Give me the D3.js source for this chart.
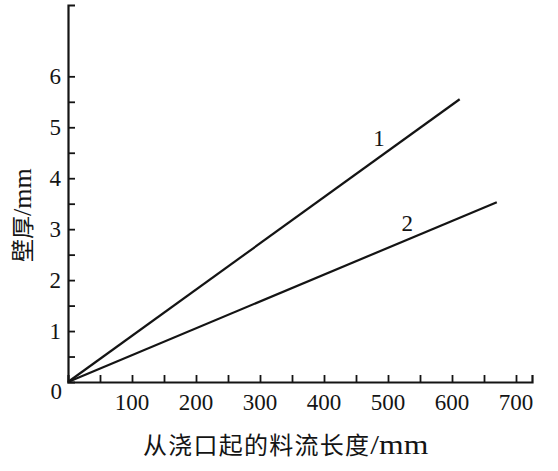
<!DOCTYPE html>
<html>
<head>
<meta charset="utf-8">
<script src="https://cdn.jsdelivr.net/npm/d3@7/dist/d3.min.js"></script>
<style>
html,body{margin:0;padding:0;background:#fff;}
svg{display:block;}
</style>
</head>
<body>
<script>
// ---- data ----
const seriesNames = ["1", "2"];
const line1X = [0, 612];
const line1Y = [0, 5.55];
const line2X = [0, 670];
const line2Y = [0, 3.53];
const xTickLabels = [100, 200, 300, 400, 500, 600, 700];
const yTickLabels = [1, 2, 3, 4, 5, 6];
const xLabel = "从浇口起的料流长度/mm";
const yLabel = "壁厚/mm";

const W = 558, H = 471;
const svg = d3.select("body").append("svg").attr("width", W).attr("height", H);

const x = d3.scaleLinear().domain([0, 725]).range([68, 532]);
const y = d3.scaleLinear().domain([0, 7.4]).range([382, 5]);

const ink = "#141414";
const serif = "'Liberation Serif','DejaVu Serif',serif";
const cjk = "'Noto Sans CJK SC','Noto Serif CJK SC',sans-serif";

// axes
const xAxis = d3.axisBottom(x).tickValues(d3.range(50, 701, 50)).tickSize(-7).tickFormat("");
const yAxis = d3.axisLeft(y).tickValues(d3.range(0.5, 6.01, 0.5)).tickSize(-7).tickFormat("");

const gx = svg.append("g").attr("transform", `translate(0,${y(0)})`).call(xAxis);
const gy = svg.append("g").attr("transform", `translate(${x(0)},0)`).call(yAxis);
[gx, gy].forEach(g => {
  g.select(".domain").attr("stroke", ink).attr("stroke-width", 2.2);
  g.selectAll(".tick line").attr("stroke", ink).attr("stroke-width", 1.8);
});

// tick labels
svg.append("g").selectAll("text").data(xTickLabels).join("text")
  .attr("x", d => x(d)).attr("y", y(0) + 28)
  .attr("text-anchor", "middle")
  .attr("font-family", serif).attr("font-size", 23).attr("fill", ink)
  .text(d => d);

svg.append("g").selectAll("text").data(yTickLabels).join("text")
  .attr("x", x(0) - 7).attr("y", d => y(d) + 8)
  .attr("text-anchor", "end")
  .attr("font-family", serif).attr("font-size", 23).attr("fill", ink)
  .text(d => d);

svg.append("text")
  .attr("x", x(0) - 6).attr("y", y(0) + 17)
  .attr("text-anchor", "end")
  .attr("font-family", serif).attr("font-size", 23).attr("fill", ink)
  .text("0");

// lines
const lineGen = d3.line().x(d => x(d[0])).y(d => y(d[1]));
const series = [
  { name: seriesNames[0], pts: d3.zip(line1X, line1Y), lx: 486, ly: 4.79 },
  { name: seriesNames[1], pts: d3.zip(line2X, line2Y), lx: 530, ly: 3.12 }
];
svg.append("g").selectAll("path").data(series).join("path")
  .attr("d", d => lineGen(d.pts))
  .attr("fill", "none").attr("stroke", ink).attr("stroke-width", 2.2);

svg.append("g").selectAll("text").data(series).join("text")
  .attr("x", d => x(d.lx)).attr("y", d => y(d.ly) + 8)
  .attr("text-anchor", "middle")
  .attr("font-family", serif).attr("font-size", 23).attr("fill", ink)
  .text(d => d.name);

// axis titles
const xt = svg.append("text")
  .attr("x", 143).attr("y", 454)
  .attr("fill", ink);
xt.append("tspan").attr("font-family", cjk).attr("font-size", 24)
  .attr("textLength", 226).attr("lengthAdjust", "spacing")
  .text(xLabel.slice(0, 9));
xt.append("tspan").attr("font-family", serif).attr("font-size", 28)
  .attr("textLength", 58).attr("lengthAdjust", "spacingAndGlyphs")
  .text(xLabel.slice(9));

const yt = svg.append("text")
  .attr("transform", `translate(31,262) rotate(-90)`)
  .attr("fill", ink);
yt.append("tspan").attr("font-family", cjk).attr("font-size", 23)
  .text(yLabel.slice(0, 2));
yt.append("tspan").attr("font-family", serif).attr("font-size", 26)
  .text(yLabel.slice(2));
</script>
</body>
</html>
